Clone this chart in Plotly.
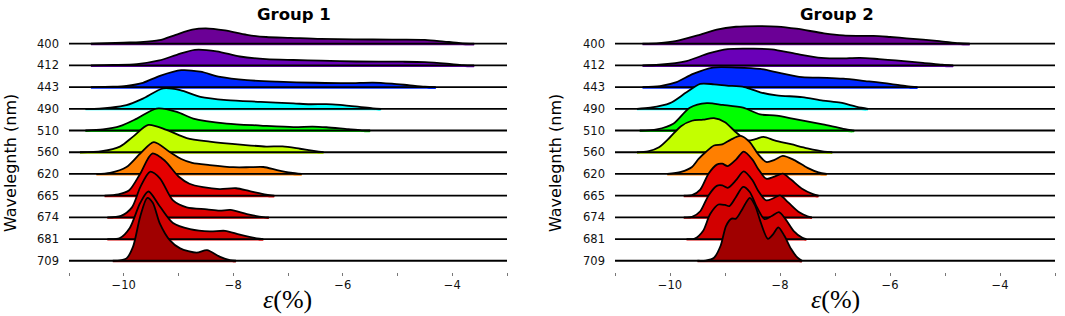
import plotly.graph_objects as go

# ---------------- data ----------------
wavelengths = ["400", "412", "443", "490", "510", "560", "620", "665", "674", "681", "709"]
colors = ["#6b0096", "#6a00b8", "#0028ff", "#00ffff", "#00ff00", "#c3ff00",
          "#ff7f00", "#e50000", "#dc0000", "#d20000", "#a00000"]

# Group 1: epsilon (%) sample points and scaled density
g1_eps = [
    [-10.6, -10.3, -10.0, -9.7, -9.35, -9.05, -8.75, -8.5, -8.15, -7.75, -7.4, -6.95, -6.4, -5.8, -5.1, -4.5, -4.15, -3.85, -3.6],
    [-10.6, -10.2, -9.76, -9.35, -9.03, -8.7, -8.3, -7.88, -7.4, -6.9, -6.4, -5.75, -4.9, -4.5, -4.1, -3.8, -3.6],
    [-10.6, -10.2, -9.95, -9.65, -9.34, -8.95, -8.6, -8.24, -7.75, -7.2, -6.5, -5.9, -5.45, -5.1, -4.8, -4.5, -4.3],
    [-10.7, -10.45, -10.25, -9.95, -9.65, -9.28, -8.97, -8.6, -8.12, -7.5, -6.9, -6.6, -6.3, -6.05, -5.7, -5.45, -5.3],
    [-10.7, -10.38, -10.07, -9.76, -9.4, -9.03, -8.73, -8.12, -7.5, -6.9, -6.55, -6.3, -5.9, -5.65, -5.5],
    [-10.8, -10.4, -10.07, -9.83, -9.55, -9.22, -8.85, -8.43, -7.82, -7.4, -7.1, -6.78, -6.5, -6.35],
    [-10.5, -10.25, -9.95, -9.7, -9.45, -9.16, -8.95, -8.75, -8.43, -8.0, -7.7, -7.45, -7.2, -6.95, -6.75],
    [-10.35, -10.1, -9.9, -9.7, -9.48, -9.25, -9.0, -8.8, -8.55, -8.25, -7.95, -7.7, -7.4, -7.25],
    [-10.3, -10.05, -9.85, -9.7, -9.52, -9.34, -9.1, -8.85, -8.48, -8.25, -8.05, -7.75, -7.45, -7.35],
    [-10.3, -10.07, -9.89, -9.7, -9.55, -9.34, -9.1, -8.79, -8.43, -8.15, -7.88, -7.57, -7.45],
    [-10.2, -9.95, -9.83, -9.7, -9.57, -9.47, -9.34, -9.16, -8.97, -8.67, -8.48, -8.24, -8.06, -7.95],
]
g1_dens = [
    [0, 0.02, 0.05, 0.07, 0.16, 0.41, 0.65, 0.71, 0.61, 0.41, 0.31, 0.27, 0.22, 0.20, 0.19, 0.18, 0.10, 0.03, 0],
    [0, 0.02, 0.06, 0.23, 0.49, 0.72, 0.65, 0.41, 0.29, 0.25, 0.22, 0.18, 0.17, 0.15, 0.08, 0.01, 0],
    [0, 0.02, 0.06, 0.20, 0.52, 0.78, 0.71, 0.47, 0.32, 0.25, 0.20, 0.18, 0.21, 0.16, 0.09, 0.02, 0],
    [0, 0.01, 0.05, 0.17, 0.47, 0.94, 0.86, 0.55, 0.40, 0.32, 0.25, 0.21, 0.22, 0.18, 0.09, 0.02, 0],
    [0, 0.05, 0.20, 0.55, 1.01, 0.86, 0.55, 0.32, 0.23, 0.16, 0.18, 0.15, 0.06, 0.01, 0],
    [0, 0.05, 0.26, 0.72, 1.26, 1.03, 0.65, 0.49, 0.34, 0.26, 0.27, 0.16, 0.05, 0],
    [0, 0.05, 0.32, 0.94, 1.47, 1.01, 0.69, 0.51, 0.41, 0.31, 0.31, 0.32, 0.18, 0.06, 0],
    [0, 0.06, 0.25, 1.01, 1.94, 1.61, 0.88, 0.55, 0.39, 0.30, 0.34, 0.21, 0.05, 0],
    [0, 0.07, 0.46, 1.38, 2.10, 1.80, 0.78, 0.46, 0.37, 0.31, 0.34, 0.15, 0.01, 0],
    [0, 0.05, 0.51, 1.66, 2.19, 1.50, 0.74, 0.46, 0.35, 0.38, 0.20, 0.03, 0],
    [0, 0.11, 0.65, 2.03, 2.90, 2.67, 1.71, 0.95, 0.57, 0.37, 0.49, 0.18, 0.03, 0],
]

# Group 2
g2_eps = [
    [-10.5, -10.2, -9.9, -9.5, -9.15, -8.8, -8.4, -8.05, -7.7, -7.2, -6.85, -6.6, -6.3, -6.0, -5.7, -5.1, -4.75, -4.55],
    [-10.5, -10.2, -9.7, -9.3, -8.95, -8.5, -8.15, -7.7, -7.25, -6.9, -6.55, -6.2, -5.9, -5.4, -5.05, -4.85],
    [-10.5, -10.18, -9.88, -9.58, -9.22, -8.8, -8.36, -8.03, -7.6, -7.15, -6.85, -6.45, -6.0, -5.7, -5.5],
    [-10.6, -10.36, -10.0, -9.7, -9.45, -9.2, -8.97, -8.65, -8.36, -8.06, -7.6, -7.22, -6.9, -6.6, -6.4],
    [-10.55, -10.24, -9.94, -9.64, -9.33, -9.04, -8.67, -8.36, -8.06, -7.7, -7.22, -6.85, -6.65],
    [-10.6, -10.4, -10.2, -10.0, -9.8, -9.6, -9.4, -9.2, -9.0, -8.8, -8.6, -8.45, -8.3, -8.1, -7.8, -7.5, -7.2, -7.05],
    [-10.05, -9.8, -9.6, -9.48, -9.35, -9.2, -9.05, -8.9, -8.72, -8.55, -8.4, -8.25, -8.1, -7.95, -7.75, -7.5, -7.3, -7.15],
    [-9.75, -9.6, -9.45, -9.3, -9.15, -9.05, -8.95, -8.8, -8.66, -8.5, -8.4, -8.25, -8.1, -7.95, -7.8, -7.6, -7.4, -7.3],
    [-9.75, -9.6, -9.45, -9.3, -9.15, -9.05, -8.95, -8.8, -8.66, -8.5, -8.4, -8.25, -8.12, -8.0, -7.85, -7.65, -7.5, -7.42],
    [-9.7, -9.55, -9.4, -9.27, -9.12, -9.0, -8.92, -8.8, -8.67, -8.55, -8.42, -8.28, -8.15, -8.02, -7.9, -7.75, -7.6, -7.52],
    [-9.5, -9.35, -9.2, -9.08, -8.98, -8.88, -8.8, -8.68, -8.55, -8.45, -8.36, -8.22, -8.12, -8.03, -7.92, -7.8, -7.68, -7.6],
]
g2_dens = [
    [0, 0.03, 0.12, 0.38, 0.65, 0.78, 0.81, 0.79, 0.69, 0.48, 0.38, 0.36, 0.36, 0.31, 0.25, 0.12, 0.02, 0],
    [0, 0.03, 0.20, 0.55, 0.75, 0.77, 0.74, 0.53, 0.35, 0.32, 0.35, 0.29, 0.23, 0.12, 0.03, 0],
    [0, 0.05, 0.23, 0.61, 0.90, 0.90, 0.84, 0.67, 0.46, 0.43, 0.39, 0.28, 0.15, 0.04, 0],
    [0, 0.05, 0.26, 0.76, 1.15, 1.13, 1.07, 1.00, 0.76, 0.62, 0.54, 0.38, 0.28, 0.09, 0],
    [0, 0.05, 0.31, 1.05, 1.26, 1.18, 1.05, 0.74, 0.69, 0.51, 0.28, 0.08, 0],
    [0, 0.04, 0.23, 0.69, 1.20, 1.45, 1.50, 1.57, 1.38, 0.92, 0.55, 0.60, 0.71, 0.55, 0.37, 0.18, 0.03, 0],
    [0, 0.09, 0.32, 0.69, 1.01, 1.31, 1.36, 1.57, 1.75, 1.47, 0.92, 0.55, 0.65, 0.83, 0.65, 0.28, 0.07, 0],
    [0, 0.02, 0.28, 1.01, 1.43, 1.47, 1.36, 1.66, 2.03, 1.66, 1.24, 0.78, 0.88, 1.01, 0.74, 0.32, 0.07, 0],
    [0, 0.02, 0.28, 1.01, 1.45, 1.47, 1.36, 1.71, 2.12, 1.71, 1.24, 0.78, 0.88, 1.01, 0.69, 0.23, 0.05, 0],
    [0, 0.02, 0.37, 1.15, 1.59, 1.57, 1.52, 1.94, 2.40, 2.17, 1.47, 0.92, 1.06, 1.24, 0.92, 0.37, 0.07, 0],
    [0, 0.01, 0.14, 0.69, 1.61, 1.94, 1.94, 2.40, 2.90, 2.53, 1.84, 1.01, 1.24, 1.54, 1.15, 0.55, 0.14, 0],
]

x_ticks = [-11, -10, -9, -8, -7, -6, -5, -4, -3]
x_ticktext = ["", "\u221210", "", "\u22128", "", "\u22126", "", "\u22124", ""]
group_titles = ["Group 1", "Group 2"]

# ---------------- figure ----------------
W, H = 1065, 316


def fx(px):
    return px / W


def fy(py):
    return 1 - py / H


fig = go.Figure()
n = len(wavelengths)
baselines = [n - 1 - i for i in range(n)]
dip = 0.07

panels = [("x", "y", g1_eps, g1_dens), ("x2", "y2", g2_eps, g2_dens)]
for xa, ya, eps_all, dens_all in panels:
    for i, wl in enumerate(wavelengths):
        b = baselines[i]
        eps = eps_all[i]
        dens = dens_all[i]
        top = [b + d for d in dens]
        fig.add_trace(go.Scatter(
            x=eps + eps[::-1], y=top + [b - dip] * len(eps),
            fill="toself", fillcolor=colors[i], mode="lines",
            line=dict(width=0, shape="spline", smoothing=0.8, color=colors[i]),
            xaxis=xa, yaxis=ya, hoverinfo="skip", showlegend=False))
        fig.add_trace(go.Scatter(
            x=eps, y=top, mode="lines",
            line=dict(width=1.8, color="black", shape="spline", smoothing=0.8),
            xaxis=xa, yaxis=ya, hoverinfo="skip", showlegend=False))
        fig.add_trace(go.Scatter(
            x=[x_ticks[0], x_ticks[-1]], y=[b, b], mode="lines",
            line=dict(width=1.8, color="black"),
            xaxis=xa, yaxis=ya, hoverinfo="skip", showlegend=False))

ydom = [fy(271.6), fy(22)]
xdom1 = [fx(69), fx(507)]
xdom2 = [fx(615), fx(1055)]

xcommon = dict(range=[-11, -3], tickmode="array", tickvals=x_ticks, ticktext=x_ticktext,
               ticks="outside", ticklen=3, tickwidth=1, tickcolor="#777",
               showgrid=False, zeroline=False, showline=False,
               tickfont=dict(family="DejaVu Sans", size=11.5, color="#111"))
ycommon = dict(range=[-0.5, 11.0], tickmode="array", tickvals=baselines, ticktext=wavelengths,
               ticks="", showgrid=False, zeroline=False, showline=False,
               ticklabelstandoff=9,
               tickfont=dict(family="DejaVu Sans", size=11.5, color="#111"))

fig.update_layout(
    width=W, height=H, margin=dict(l=0, r=0, t=0, b=0),
    paper_bgcolor="white", plot_bgcolor="white",
    xaxis=dict(domain=xdom1, anchor="y", **xcommon),
    yaxis=dict(domain=ydom, anchor="x", **ycommon),
    xaxis2=dict(domain=xdom2, anchor="y2", **xcommon),
    yaxis2=dict(domain=ydom, anchor="x2", **ycommon),
)

annots = []
for k, (dom, tx, lx) in enumerate([(xdom1, 294, 10), (xdom2, 837, 555)]):
    cx = (dom[0] + dom[1]) / 2
    annots.append(dict(text="<b>" + group_titles[k] + "</b>", x=fx(tx), y=fy(14),
                       xref="paper", yref="paper", showarrow=False, xanchor="center", yanchor="middle",
                       font=dict(family="DejaVu Sans", size=16.5, color="black")))
    annots.append(dict(text="<i>\u03b5</i>(%)", x=cx, y=fy(299),
                       xref="paper", yref="paper", showarrow=False, xanchor="center", yanchor="middle",
                       font=dict(family="Liberation Serif", size=26, color="black")))
    annots.append(dict(text="Wavelegnth (nm)", x=fx(lx), y=fy(163),
                       xref="paper", yref="paper", showarrow=False, xanchor="center", yanchor="middle",
                       textangle=-90,
                       font=dict(family="DejaVu Sans", size=16, color="black")))
fig.update_layout(annotations=annots)

# remove the default page margin so the figure sits at the window's top-left corner
fig.write_html("out.html", config={"displayModeBar": False},
               post_script="document.body.style.margin='0';")
